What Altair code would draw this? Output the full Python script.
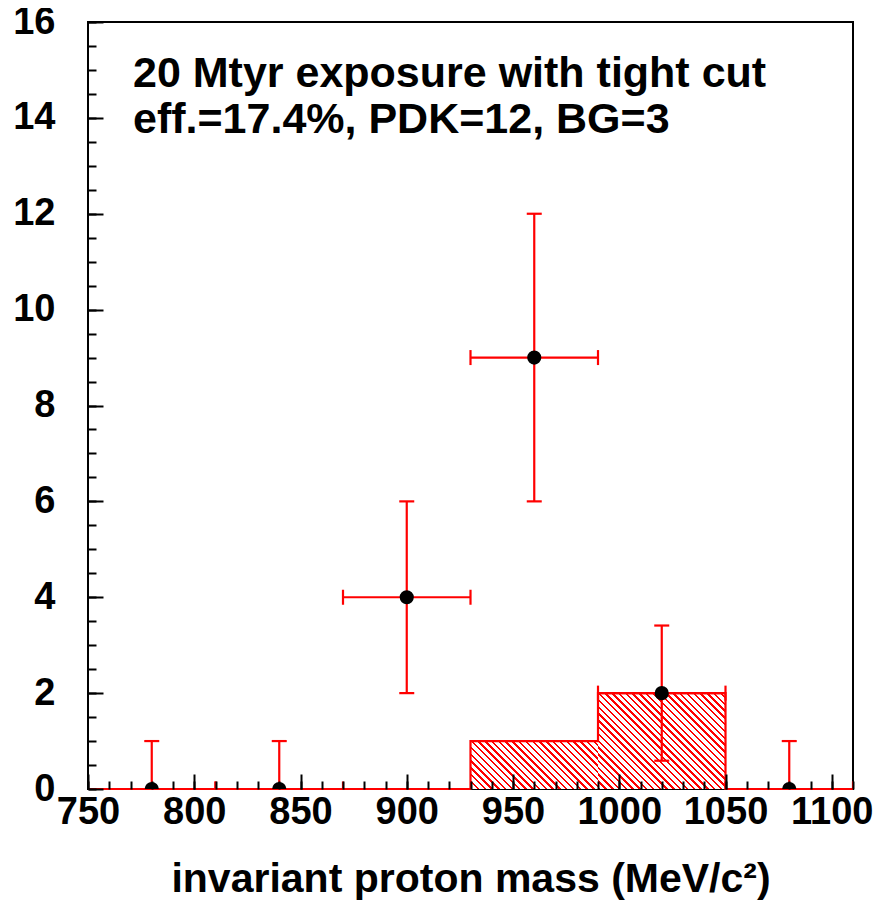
import math
import altair as alt
import pandas as pd

# ---------------- data ----------------
centers = [780, 840, 900, 960, 1020, 1080]
counts = [0, 0, 4, 9, 2, 0]
err_low = [0, 0, 2, 3, 1.41, 0]
err_high = [1, 1, 2, 3, 1.41, 1]
half_width = 30
background = [0, 0, 0, 1, 2, 0]

x_major = [750, 800, 850, 900, 950, 1000, 1050, 1100]
x_minor = list(range(750, 1111, 10))
y_major = [0, 2, 4, 6, 8, 10, 12, 14, 16]
y_minor = [i * 0.5 for i in range(33)]

annotation = ["20 Mtyr exposure with tight cut", "eff.=17.4%, PDK=12, BG=3"]
x_title = "invariant proton mass (MeV/c²)"

# ---------------- layout / style ----------------
PLOT_W, PLOT_H = 765, 767
X_DOMAIN = [750, 1110]
Y_DOMAIN = [0, 16]
FONT = "Liberation Sans"
RED = "#ff0000"

df = pd.DataFrame({
    "center": centers,
    "count": counts,
    "lo": [c - half_width for c in centers],
    "hi": [c + half_width for c in centers],
    "ylo": [n - e for n, e in zip(counts, err_low)],
    "yhi": [n + e for n, e in zip(counts, err_high)],
    "bg": background,
    "idx": list(range(len(centers))),
})

step_df = pd.DataFrame({
    "edge": [c - half_width for c in centers] + [centers[-1] + half_width],
    "bg": background + [background[-1]],
})

xs = alt.Scale(domain=X_DOMAIN, nice=False, zero=False)
ys = alt.Scale(domain=Y_DOMAIN, nice=False, zero=False)


def X(field, axis=None):
    return alt.X(field, type="quantitative", scale=xs, axis=axis)


def Y(field, axis=None):
    return alt.Y(field, type="quantitative", scale=ys, axis=axis)


lab_common = dict(labelFont=FONT, labelFontSize=38, labelFontWeight="bold",
                  labelColor="black", labelFlush=False, labelOverlap=False,
                  domain=False, grid=False, ticks=False, tickSize=0)

ax_x_labels = alt.Axis(orient="bottom", values=x_major, format="d", labelPadding=4,
                       title=x_title, titleFont=FONT, titleFontSize=41,
                       titleFontWeight="bold", titleColor="black", titlePadding=28,
                       **lab_common)
ax_y_labels = alt.Axis(orient="left", values=y_major, format="d", labelPadding=33,
                       title=None, **lab_common)

tick_common = dict(labels=False, domain=False, grid=False, ticks=True,
                   tickColor="black", tickWidth=2, title=None, zindex=1)
ax_x_major = alt.Axis(orient="bottom", values=x_major, tickSize=15, offset=-15, **tick_common)
ax_x_minor = alt.Axis(orient="bottom", values=x_minor, tickSize=8, offset=-8, **tick_common)
ax_y_major = alt.Axis(orient="left", values=y_major, tickSize=15, offset=-15, **tick_common)
ax_y_minor = alt.Axis(orient="left", values=y_minor, tickSize=8, offset=-8, **tick_common)


def hatch(W, H, period=4.8, frac=0.36):
    s = (W + H) / (W * W + H * H)
    n = (W + H) / (math.sqrt(2) * period)
    stops = []
    k = 0
    while k / n < 1:
        a = k / n
        b = min((k + frac) / n, 1)
        c = min((k + 1) / n, 1)
        stops += [(a, RED), (b, RED), (b, "white"), (c, "white")]
        k += 1
    return {"gradient": "linear", "x1": 0, "y1": 1, "x2": s * W, "y2": 1 - s * H,
            "stops": [{"offset": o, "color": col} for o, col in stops]}


px_x = PLOT_W / (X_DOMAIN[1] - X_DOMAIN[0])
px_y = PLOT_H / (Y_DOMAIN[1] - Y_DOMAIN[0])

layers = []
# hatched background histogram
for i, b in enumerate(background):
    if b <= 0:
        continue
    W = 2 * half_width * px_x
    H = b * px_y
    layers.append(
        alt.Chart(df).transform_filter(alt.datum.idx == i)
        .mark_rect(fill=hatch(W, H), strokeWidth=0)
        .encode(x=X("lo"), x2="hi", y=Y("bg"), y2=alt.datum(0))
    )

# histogram outline
layers.append(
    alt.Chart(step_df).mark_line(interpolate="step-after", color=RED, strokeWidth=2.2)
    .encode(x=X("edge", ax_x_labels), y=Y("bg", ax_y_labels))
)

# vertical error bars
layers.append(
    alt.Chart(df).mark_rule(color=RED, strokeWidth=2.2, clip=True)
    .encode(x=X("center", ax_x_major), y=Y("ylo", ax_y_major), y2="yhi")
)
# horizontal error bars
layers.append(
    alt.Chart(df).mark_rule(color=RED, strokeWidth=2.2, clip=True)
    .encode(x=X("lo", ax_x_minor), x2="hi", y=Y("count", ax_y_minor))
)
# caps on vertical error bars
for f in ["ylo", "yhi"]:
    layers.append(
        alt.Chart(df).mark_tick(color=RED, orient="horizontal", size=15,
                                thickness=2.2, clip=True, opacity=1)
        .encode(x=X("center"), y=Y(f))
    )
# caps on horizontal error bars
for f in ["lo", "hi"]:
    layers.append(
        alt.Chart(df).mark_tick(color=RED, orient="vertical", size=15,
                                thickness=2.2, clip=True, opacity=1)
        .encode(x=X(f), y=Y("count"))
    )
# data points
layers.append(
    alt.Chart(df).mark_circle(color="black", size=200, opacity=1, clip=True)
    .encode(x=X("center"), y=Y("count"))
)
# annotation
for i, line in enumerate(annotation):
    layers.append(
        alt.Chart(pd.DataFrame({"t": [line]})).mark_text(
            align="left", baseline="alphabetic", font=FONT, fontSize=43,
            fontWeight="bold", color="black")
        .encode(x=alt.value(45), y=alt.value(65 + 46 * i), text="t:N")
    )

chart = (
    alt.layer(*layers)
    .resolve_axis(x="independent", y="independent")
    .properties(width=PLOT_W, height=PLOT_H,
                padding={"left": 80, "top": 14, "right": 22, "bottom": 114},
                autosize=alt.AutoSizeParams(type="none"),
                background="white")
    .configure_view(stroke="black", strokeWidth=2)
)

chart.save("out.html", embed_options={"renderer": "svg", "actions": False})
